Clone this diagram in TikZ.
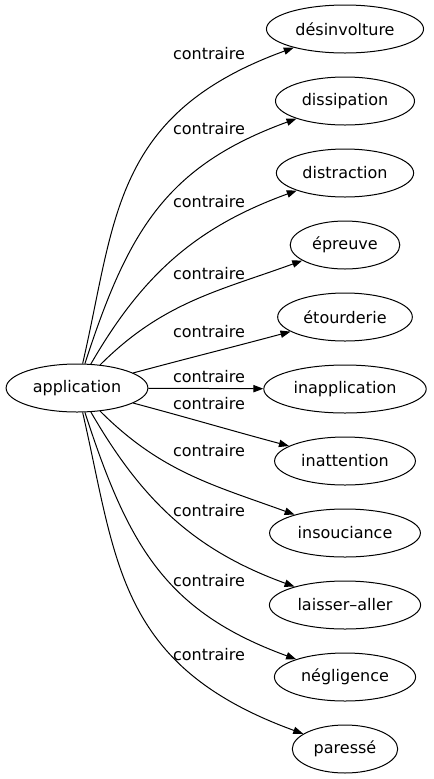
\documentclass[tikz,border=0pt]{standalone}
\usepackage{fontspec}
\setmainfont{DejaVu Sans}
\usetikzlibrary{arrows.meta,shapes.geometric}

\begin{document}
\begin{tikzpicture}[x=0.75pt,y=-0.75pt,line width=0.75pt,
  >={Triangle[length=7.5pt,width=5.5pt]},
  word/.style={ellipse,draw,inner xsep=4.5pt,inner ysep=0pt,minimum height=36pt,font=\fontsize{12pt}{14pt}\selectfont},
  rel/.style={inner sep=0pt,font=\fontsize{12pt}{14pt}\selectfont}]
\useasboundingbox (0,0) rectangle (433,779);

\node[word] (0) at (77,388) {application};
\node[word] (1) at (345,29) {désinvolture};
\node[word] (2) at (345,101) {dissipation};
\node[word] (3) at (345,173) {distraction};
\node[word] (4) at (345,245) {épreuve};
\node[word] (5) at (345,317) {étourderie};
\node[word] (6) at (345,389) {inapplication};
\node[word] (7) at (345,461) {inattention};
\node[word] (8) at (345,533) {insouciance};
\node[word] (9) at (345,605) {laisser–aller};
\node[word] (10) at (345,677) {négligence};
\node[word] (11) at (345,749) {paressé};

\node[rel] (l1) at (209,54) {contraire};
\node[rel] (l2) at (209,129) {contraire};
\node[rel] (l3) at (209,202) {contraire};
\node[rel] (l4) at (209,274) {contraire};
\node[rel] (l5) at (209,332) {contraire};
\node[rel] (l6) at (209,377) {contraire};
\node[rel] (l7) at (209,404) {contraire};
\node[rel] (l8) at (209,451) {contraire};
\node[rel] (l9) at (209,511) {contraire};
\node[rel] (l10) at (209,581) {contraire};
\node[rel] (l11) at (209,655) {contraire};

\path[->]
     (0) edge [out=77,in=200,out looseness=1,in looseness=1.3] (1)
         edge [out=72,in=200,looseness=1.1] (2)
         edge [out=60,in=200] (3)
         edge [out=45,in=200] (4)
         edge [out=15,in=195] (5)
         edge (6)
         edge [out=-15,in=165] (7)
         edge [out=-45,in=160] (8)
         edge [out=-60,in=160] (9)
         edge [out=-72,in=160,looseness=1.1] (10)
         edge [out=-77,in=160,out looseness=1,in looseness=1.3] (11)
     ;
\end{tikzpicture}
\end{document}
